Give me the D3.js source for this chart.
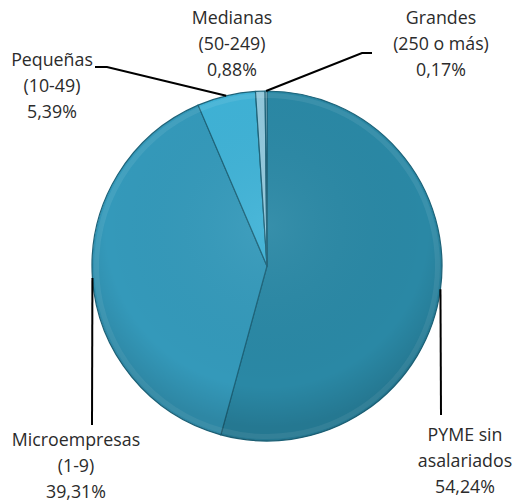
<!DOCTYPE html>
<html>
<head>
<meta charset="utf-8">
<script src="https://cdn.jsdelivr.net/npm/d3@7"></script>
<style>
  body { margin: 0; background: #fff; }
  text { font-family: "Open Sans", sans-serif; font-size: 17.8px; fill: #2b2b2b; }
</style>
</head>
<body>
<svg id="chart" width="528" height="502"></svg>
<script>
// data
const categories = ["PYME sin asalariados", "Microempresas (1-9)", "Pequeñas (10-49)", "Medianas (50-249)", "Grandes (250 o más)"];
const values = [54.24, 39.31, 5.39, 0.88, 0.17];
const labelNames = [["PYME sin", "asalariados"], ["Microempresas", "(1-9)"], ["Pequeñas", "(10-49)"], ["Medianas", "(50-249)"], ["Grandes", "(250 o más)"]];
const colors = ["#2a88a5", "#3499ba", "#3fb2d6", "#92c8dc", "#c4e2ec"];

var svg = d3.select("#chart"),
	cx = 267, cy = 266, r = 175;

var defs = svg.append("defs");
// shading for the 3d look
var shade = defs.append("radialGradient")
	.attr("id", "shade")
	.attr("gradientUnits", "userSpaceOnUse")
	.attr("cx", cx).attr("cy", cy - 40).attr("r", r * 1.15);
shade.append("stop").attr("offset", "0%").attr("stop-color", "#fff").attr("stop-opacity", 0.06);
shade.append("stop").attr("offset", "80%").attr("stop-color", "#000").attr("stop-opacity", 0.0);
shade.append("stop").attr("offset", "100%").attr("stop-color", "#000").attr("stop-opacity", 0.12);

var pie = d3.pie().sort(null).value(function(d) { return d; });
var arcs = pie(values);
var arc = d3.arc().innerRadius(0).outerRadius(r);
var rim = d3.arc().innerRadius(r).outerRadius(r);
var bevel = d3.arc().innerRadius(r - 7).outerRadius(r - 2);

var g = svg.append("g").attr("transform", "translate(" + cx + "," + cy + ")");

g.selectAll("path.slice")
	.data(arcs)
	.enter().append("path")
		.attr("class", "slice")
		.attr("d", arc)
		.attr("fill", function(d, i) { return colors[i]; })
		.attr("stroke", "#1d6379")
		.attr("stroke-width", 1.2)
		.attr("stroke-linejoin", "round");

// light bevel near the rim
g.selectAll("path.bevel")
	.data(arcs)
	.enter().append("path")
		.attr("class", "bevel")
		.attr("d", bevel)
		.attr("fill", "#fff")
		.attr("opacity", 0.08);

g.append("circle")
	.attr("r", r)
	.attr("fill", "url(#shade)")
	.attr("transform", "translate(" + (-cx) + "," + (-cy) + ")")
	.attr("cx", cx).attr("cy", cy);

// label layout: text centre x, first baseline, leader line end points
const labelX = [465, 76, 52, 232, 441];
const labelY = [441, 446, 66, 24, 24];
const leaderEnd = [[[441, 415]], [[92, 425]], [[107, 67], [95, 67]], null, [[362, 53], [372, 53]]];

var fmt = d3.formatLocale({ decimal: ",", thousands: ".", grouping: [3], currency: ["", "€"] }).format(".2f");

arcs.forEach(function(a, i) {
	if (leaderEnd[i]) {
		var p = rim.centroid(a);
		var pts = [[cx + p[0], cy + p[1]]].concat(leaderEnd[i]);
		svg.append("path")
			.attr("d", d3.line()(pts))
			.attr("fill", "none")
			.attr("stroke", "#000")
			.attr("stroke-width", 2);
	}
	var lines = labelNames[i].concat([fmt(values[i]) + "%"]);
	var t = svg.append("text")
		.attr("text-anchor", "middle")
		.attr("x", labelX[i])
		.attr("y", labelY[i]);
	lines.forEach(function(s, k) {
		t.append("tspan")
			.attr("x", labelX[i])
			.attr("dy", k == 0 ? 0 : 26)
			.text(s);
	});
});
</script>
</body>
</html>
